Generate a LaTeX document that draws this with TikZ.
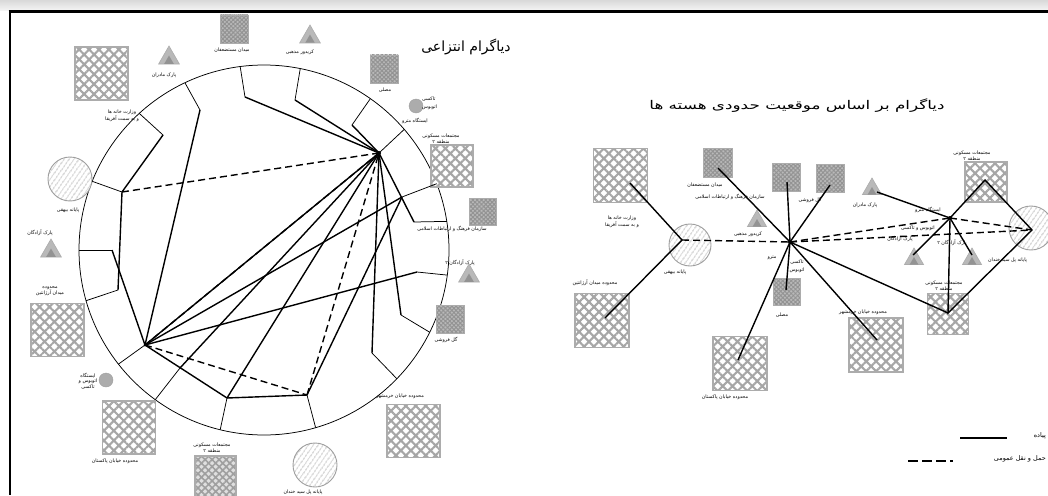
\documentclass[tikz,border=0pt]{standalone}
\usepackage{fontspec}
\usetikzlibrary{calc,patterns.meta,shapes.geometric}
\newfontfamily\arabicfont[Script=Arabic]{DejaVu Sans}
\TeXXeTstate=1
\newcommand\ar[1]{{\arabicfont\beginR #1\endR}}
\begin{document}
\begin{tikzpicture}[x=1pt,y=-1pt,
  thinl/.style={line width=0.75pt},
  conn/.style={line width=1.4pt},
  dconn/.style={line width=1.4pt, dash pattern=on 7pt off 4pt},
  bigsq/.style={rectangle, inner sep=0pt, minimum size=53pt, draw=gray!65, line width=1.4pt, preaction={fill=white}, pattern={Hatch[angle=45,distance=7pt,line width=2.1pt]}, pattern color=gray!70},
  medsq/.style={rectangle, inner sep=0pt, draw=gray!65, line width=1.1pt, preaction={fill=gray!25}, pattern={Hatch[angle=45,distance=5pt,line width=1.6pt]}, pattern color=gray!75},
  darksq/.style={rectangle, inner sep=0pt, minimum size=28pt, draw=gray!65, line width=0.9pt, preaction={fill=gray!55}, pattern={Hatch[angle=45,distance=3pt,line width=1pt]}, pattern color=gray!85},
  hcirc/.style={circle, inner sep=0pt, minimum size=44pt, draw=gray!75, line width=0.9pt, preaction={fill=white}, pattern={Lines[angle=55,distance=4pt,line width=0.9pt]}, pattern color=gray!80},
  tri/.style={regular polygon, regular polygon sides=3, inner sep=0pt, minimum size=24pt, fill=gray!55, draw=gray!65, line width=0.6pt},
  triin/.style={regular polygon, regular polygon sides=3, inner sep=0pt, minimum size=11pt, fill=gray!85},
  gdot/.style={circle, inner sep=0pt, minimum size=14pt, fill=gray!65, draw=gray!75},
  hubdot/.style={circle, inner sep=0pt, minimum size=4pt, fill=black},
  lbl/.style={font=\fontsize{4.8}{5.6}\selectfont, inner sep=0pt, align=center},
  ttl/.style={font=\fontsize{14}{16}\selectfont, inner sep=0pt},
  lgd/.style={font=\fontsize{6.5}{8}\selectfont, inner sep=0pt, anchor=east}
]
\useasboundingbox (0,0) rectangle (1048,495);
\fill[white] (0,0) rectangle (1048,495);
% frame
\shade[top color=gray!30, bottom color=gray!8] (0,0) rectangle (1048,10.5);
\draw[line width=3pt] (8.7,12) -- (1048,12);
\draw[line width=2.5pt] (10,10.5) -- (10,495);

% ================= LEFT DIAGRAM =================
\node[ttl] (titleL) at (466,47) {\ar{دیاگرام انتزاعی}};
\coordinate (C) at (264,250);
\node[draw, circle, minimum size=370pt, inner sep=0pt, line width=0.75pt] (ring) at (C) {};

% icons and labels
\node[bigsq] (sqWZ) at (101.5,73.5) {};
\node[lbl] (lWZ) at (122,116) {\ar{وزارت خانه ها}\\\ar{و به سمت آفریقا}};
\node[tri] (triMD) at (169,58) {};
\node[triin] (triMDi) at (169,61) {};
\node[lbl] (lMD) at (164,75) {\ar{پارک مادران}};
\node[darksq] (sqMS) at (234,29) {};
\node[lbl] (lMS) at (232,50) {\ar{میدان مستضعفان}};
\node[tri] (triKM) at (310,37) {};
\node[triin] (triKMi) at (310,40) {};
\node[lbl] (lKM) at (300,52) {\ar{کریدور مذهبی}};
\node[darksq] (sqMO) at (384,69) {};
\node[lbl] (lMO) at (385,90) {\ar{مصلی}};
\node[gdot] (dotT) at (416,106) {};
\node[lbl, anchor=west] (lT1) at (422,99) {\ar{تاکسی}};
\node[lbl, anchor=west] (lT2) at (422,107) {\ar{اتوبوس}};
\node[lbl] (lT3) at (415,121) {\ar{ایستگاه مترو}};
\node[lbl] (lMK1) at (441,139) {\ar{مجتمعات مسکونی}\\\ar{منطقه ۲}};
\node[bigsq, minimum size=42pt] (sqMK1) at (452,166) {};
\node[darksq, minimum size=27pt] (sqSF) at (483,212) {};
\node[lbl] (lSF) at (452,229) {\ar{سازمان فرهنگ و ارتباطات اسلامی}};
\node[lbl] (lPA2) at (460,263) {\ar{پارک آزادگان ۲}};
\node[tri] (triPA2) at (469,276) {};
\node[triin] (triPA2i) at (469,279) {};
\node[darksq] (sqGF) at (450,319) {};
\node[lbl] (lGF) at (446,340) {\ar{گل فروشی}};
\node[lbl] (lKH) at (400,396) {\ar{محدوده خیابان خرمشهر}};
\node[bigsq] (sqKH) at (413.5,431) {};
\node[hcirc] (hcPS) at (315,465) {};
\node[lbl] (lPS) at (303,492) {\ar{پایانه پل سید خندان}};
\node[lbl] (lMK2) at (212,448) {\ar{مجتمعات مسکونی}\\\ar{منطقه ۲}};
\node[medsq, minimum width=41pt, minimum height=44pt] (sqMK2) at (215.5,478) {};
\node[bigsq] (sqPK) at (129,427.5) {};
\node[lbl] (lPK) at (115,461) {\ar{محدوده خیابان پاکستان}};
\node[gdot] (dotB) at (106,380) {};
\node[lbl] (lB) at (88,381) {\ar{ایستگاه}\\\ar{اتوبوس و}\\\ar{تاکسی}};
\node[bigsq] (sqAR) at (57.5,330) {};
\node[lbl] (lAR) at (50,291) {\ar{محدوده}\\\ar{میدان آرژانتین}};
\node[tri] (triPA) at (51,251) {};
\node[triin] (triPAi) at (51,254) {};
\node[lbl] (lPA) at (40,233) {\ar{پارک آزادگان}};
\node[hcirc] (hcPB) at (70,179) {};
\node[lbl] (lPB) at (68,210) {\ar{پایانه بیهقی}};

% outer points on ring
\coordinate (O1) at ($(C)+(262.6:185)$);
\coordinate (O2) at ($(C)+(281.3:185)$);
\coordinate (O3) at ($(C)+(305.1:185)$);
\coordinate (O4) at ($(C)+(319.3:185)$);
\coordinate (O5) at ($(C)+(339:185)$);
\coordinate (O6) at ($(C)+(351.1:185)$);
\coordinate (O7) at ($(C)+(7.8:185)$);
\coordinate (O8) at ($(C)+(26.4:185)$);
\coordinate (O9) at ($(C)+(44.1:185)$);
\coordinate (O10) at ($(C)+(73.8:185)$);
\coordinate (O11) at ($(C)+(103.7:185)$);
\coordinate (O12) at ($(C)+(126:185)$);
\coordinate (O13) at ($(C)+(141.9:185)$);
\coordinate (O14) at ($(C)+(164.1:185)$);
\coordinate (O15) at ($(C)+(180:185)$);
\coordinate (O16) at ($(C)+(201.8:185)$);
\coordinate (O17) at ($(C)+(227.6:185)$);
\coordinate (O18) at ($(C)+(244.7:185)$);
% inner vertices
\coordinate (I1) at (245,97);
\coordinate (I2) at (295,100);
\coordinate (I3) at (352,125);
\coordinate (TH) at (379,153);
\coordinate (I5) at (402,197);
\coordinate (I6) at (414,222);
\coordinate (I7) at (417,272);
\coordinate (I8) at (401,315);
\coordinate (I9) at (372,353);
\coordinate (B) at (307,395);
\coordinate (I11) at (227,398);
\coordinate (V) at (180,368);
\coordinate (L2) at (145,345);
\coordinate (I14) at (118,290);
\coordinate (I15) at (112,250);
\coordinate (I16) at (122,192);
\coordinate (I17) at (163,135);
\coordinate (I18) at (200,110);

% radials (thin)
\draw[thinl] (O1) -- (I1);
\draw[thinl] (O2) -- (I2);
\draw[thinl] (O3) -- (I3);
\draw[thinl] (O4) -- (TH);
\draw[thinl] (O5) -- (I5);
\draw[thinl] (O6) -- (I6);
\draw[thinl] (O7) -- (I7);
\draw[thinl] (O8) -- (I8);
\draw[thinl] (O9) -- (I9);
\draw[thinl] (O10) -- (B);
\draw[thinl] (O11) -- (I11);
\draw[thinl] (O12) -- (V);
\draw[thinl] (O13) -- (L2);
\draw[thinl] (O14) -- (I14);
\draw[thinl] (O15) -- (I15);
\draw[thinl] (O16) -- (I16);
\draw[thinl] (O17) -- (I17);
\draw[thinl] (O18) -- (I18);
% connections
\draw[conn] (I1) -- (TH);
\draw[conn] (I2) -- (TH);
\draw[conn] (I3) -- (TH);
\draw[conn] (TH) -- (I6);
\draw[conn] (TH) -- (I8);
\draw[conn] (TH) -- (I9);
\draw[conn] (I17) -- (I16);
\draw[conn] (I16) -- (I14);
\draw[conn] (I15) -- (L2);
\draw[conn] (I18) -- (L2);
\draw[conn] (L2) -- (TH);
\draw[conn] (L2) -- (I5);
\draw[conn] (L2) -- (I7);
\draw[conn] (L2) -- (I11);
\draw[conn] (I11) -- (B);
\draw[conn] (I11) -- (TH);
\draw[conn] (V) -- (TH);
\draw[conn] (B) -- (I5);
\draw[dconn] (I16) -- (TH);
\draw[dconn] (L2) -- (TH);
\draw[dconn] (L2) -- (B);
\draw[dconn] (B) -- (TH);
\node[hubdot] (thdot) at (TH) {};
\node[hubdot, minimum size=3pt] (l2dot) at (L2) {};

% ================= RIGHT DIAGRAM =================
\node[ttl, font=\fontsize{12}{14}\selectfont] (titleR) at (797,106) {\scalebox{1.4}[1]{\ar{دیاگرام بر اساس موقعیت حدودی هسته ها}}};

\node[bigsq, minimum size=54pt] (sqRWZ) at (620.5,175.5) {};
\node[lbl] (lRWZ) at (622,222) {\ar{وزارت خانه ها}\\\ar{و به سمت آفریقا}};
\node[hcirc, minimum size=42pt] (hcRB) at (690,245) {};
\node[lbl] (lRB) at (675,272) {\ar{پایانه بیهقی}};
\node[bigsq, minimum size=54pt] (sqRAR) at (602,320.5) {};
\node[lbl] (lRAR) at (595,283) {\ar{محدوده میدان آرژانتین}};
\node[darksq, minimum size=29pt] (sqRMS) at (718,162.5) {};
\node[lbl] (lRMS) at (705,185) {\ar{میدان مستضعفان}};
\node[lbl] (lRSF) at (730,197) {\ar{سازمان فرهنگ و ارتباطات اسلامی}};
\node[darksq] (sqRSF) at (786,177.5) {};
\node[darksq] (sqRGF) at (830,178) {};
\node[lbl] (lRGF) at (810,200) {\ar{گل فروشی}};
\node[tri, minimum size=22pt] (triRMD) at (872,189) {};
\node[triin, minimum size=10pt] (triRMDi) at (872,192) {};
\node[lbl] (lRMD) at (865,205) {\ar{پارک مادران}};
\node[tri, minimum size=22pt] (triRKM) at (757,221) {};
\node[triin, minimum size=10pt] (triRKMi) at (757,224) {};
\node[lbl] (lRKM) at (748,234) {\ar{کریدور مذهبی}};
\node[bigsq, minimum width=42pt, minimum height=40pt] (sqRMK1) at (986,182) {};
\node[lbl] (lRMK1) at (972,156) {\ar{مجتمعات مسکونی}\\\ar{منطقه ۲}};
\node[hcirc] (hcRPS) at (1031,228) {};
\node[lbl, anchor=west] (lRPS) at (988,260) {\ar{پایانه پل سید خندان}};
\node[tri, minimum size=22pt] (triRPA) at (914,259) {};
\node[triin, minimum size=10pt] (triRPAi) at (914,262) {};
\node[tri, minimum size=22pt] (triRPA2) at (972,259) {};
\node[triin, minimum size=10pt] (triRPA2i) at (972,262) {};
\node[bigsq, minimum size=41pt] (sqRMK2) at (948,314) {};
\node[lbl] (lRMK2) at (944,286) {\ar{مجتمعات مسکونی}\\\ar{منطقه ۲}};
\node[darksq, minimum size=27pt] (sqRMO) at (786.5,291.5) {};
\node[lbl] (lRMO) at (782,315) {\ar{مصلی}};
\node[bigsq, minimum size=54pt] (sqRPK) at (740,363.5) {};
\node[lbl] (lRPK) at (725,397) {\ar{محدوده خیابان پاکستان}};
\node[bigsq, minimum size=54pt] (sqRKH) at (876,345) {};
\node[lbl] (lRKH) at (863,312) {\ar{محدوده خیابان خرمشهر}};
% small labels near hubs
\node[lbl] (lR1a) at (772,258) {\ar{مترو}};
\node[lbl] (lR1b) at (797,262) {\ar{تاکسی}};
\node[lbl] (lR1c) at (797,270) {\ar{اتوبوس}};
\node[lbl] (lR2a) at (928,210) {\ar{ایستگاه مترو}};
\node[lbl] (lR2b) at (918,228) {\ar{اتوبوس و تاکسی}};
\node[lbl] (lR2c) at (900,239) {\ar{پارک آزادگان}};
\node[lbl] (lR2d) at (952,243) {\ar{پارک آزادگان ۲}};

% vertices
\coordinate (R1) at (790,242);
\coordinate (R2) at (950,218);
\coordinate (vRW) at (630,183);
\coordinate (vRB) at (682,240);
\coordinate (vRAR) at (605,318);
\coordinate (vRMS) at (718,168);
\coordinate (vRSF) at (787,182);
\coordinate (vRGF) at (830,185);
\coordinate (vRMD) at (877,192);
\coordinate (vRMO) at (786,290);
\coordinate (vRPK) at (738,360);
\coordinate (vRKH) at (877,340);
\coordinate (vRMK2) at (948,313);
\coordinate (vRMK1) at (985,180);
\coordinate (vRPS) at (1032,230);
\coordinate (vRPA) at (913,255);
\coordinate (vRPA2) at (972,255);

\draw[conn] (vRW) -- (vRB);
\draw[conn] (vRB) -- (vRAR);
\draw[dconn] (vRB) -- (R1);
\draw[conn] (vRMS) -- (R1);
\draw[conn] (vRSF) -- (R1);
\draw[conn] (vRGF) -- (R1);
\draw[conn] (R1) -- (vRMO);
\draw[conn] (R1) -- (vRPK);
\draw[conn] (R1) -- (vRKH);
\draw[conn] (R1) -- (vRMK2);
\draw[conn] (vRMD) -- (R2);
\draw[dconn] (R1) -- (R2);
\draw[dconn] (R1) -- (vRPS);
\draw[dconn] (R2) -- (vRPS);
\draw[conn] (R2) -- (vRMK1) -- (vRPS);
\draw[conn] (R2) -- (vRMK2) -- (vRPS);
\draw[conn] (R2) -- (vRPA);
\draw[conn] (R2) -- (vRPA2);
\node[hubdot] (r1dot) at (R1) {};
\node[hubdot] (r2dot) at (R2) {};

% legend
\coordinate (lgA1) at (960,438);
\coordinate (lgA2) at (1007,438);
\coordinate (lgB1) at (908,461);
\coordinate (lgB2) at (953,461);
\draw[conn] (lgA1) -- (lgA2);
\draw[line width=1.4pt, dash pattern=on 10pt off 4pt] (lgB1) -- (lgB2);
\node[lgd] (lgT1) at (1046,436) {\ar{پیاده}};
\node[lgd] (lgT2) at (1046,459) {\ar{حمل و نقل عمومی}};
\end{tikzpicture}
\end{document}
